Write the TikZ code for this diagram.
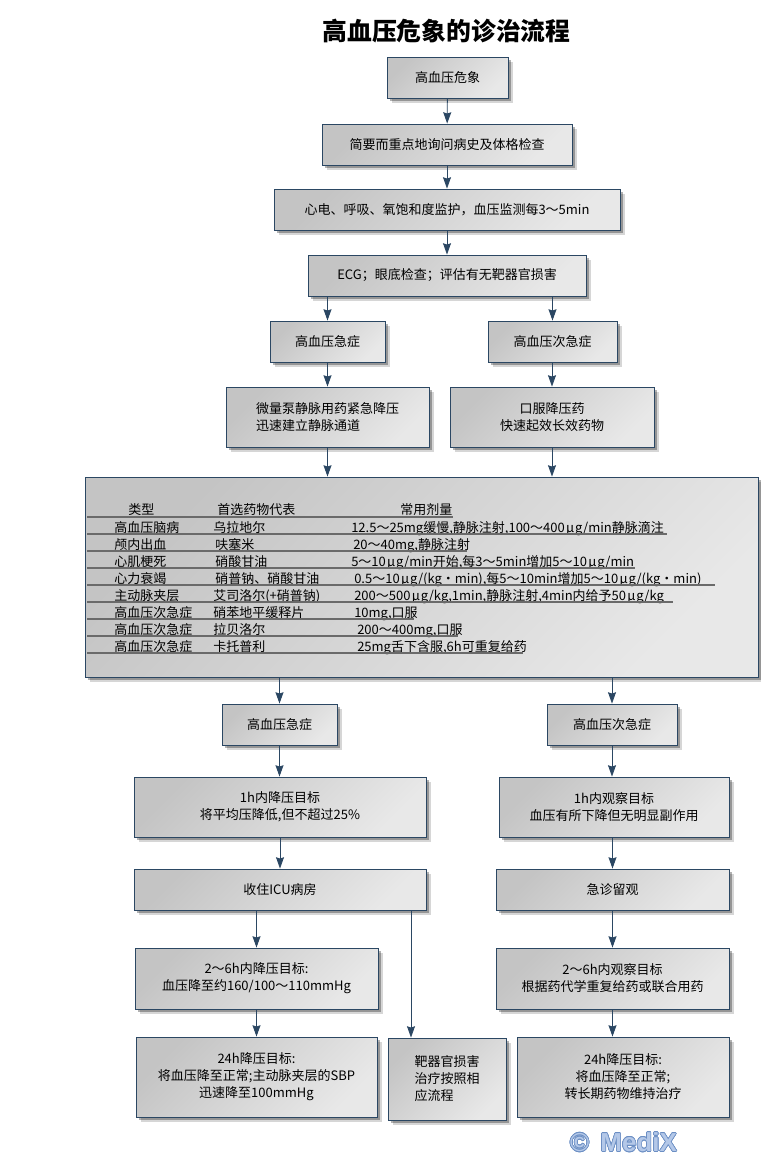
\documentclass[tikz,border=0pt]{standalone}
\usepackage{fontspec}
\usepackage{contour}
\setmainfont{Noto Sans CJK SC}
\newfontfamily\watermarkfont{Liberation Sans}
\usetikzlibrary{arrows.meta,calc,shadows}
\contourlength{0.5pt}
\definecolor{boxedge}{HTML}{2B4763}
\definecolor{boxdark}{HTML}{C4C4C4}
\definecolor{boxlight}{HTML}{E8E8E8}
\definecolor{rowgray}{HTML}{6A6A6A}
\definecolor{markblue}{HTML}{B4C8E8}
\definecolor{markedge}{HTML}{6C8FC4}
\newcommand{\mug}{\kern1pt μ\kern.6pt g}
\tikzset{
  flowbox/.style={draw=boxedge,line width=0.65pt,top color=boxdark,bottom color=boxlight,shading angle=45,
    drop shadow={shadow xshift=3.4pt,shadow yshift=-3.4pt,opacity=.16,fill=black},
    drop shadow={shadow xshift=2pt,shadow yshift=-2pt,opacity=.3,fill=black},
    inner sep=0pt,font=\fontsize{9.75}{12.75}\selectfont,align=center,
    execute at begin node={\vspace{1.5pt}}},
  flowarrow/.style={draw=boxedge,line width=0.65pt,-{Stealth[length=8.5pt,width=6pt,inset=1pt]}},
  rowline/.style={draw=rowgray,line width=1.1pt},
  rowtext/.style={anchor=base west,inner sep=0pt,font=\fontsize{9.75}{12}\selectfont},
}
\begin{document}
\begin{tikzpicture}[x=0.75pt,y=-0.75pt]
  \useasboundingbox (0,0) rectangle (761,1158);
  \node[font=\fontsize{18.6}{22}\selectfont\bfseries] (title) at (446.5,31) {高血压危象的诊治流程};

  % upper boxes
  \node[flowbox,minimum width=90.75pt,minimum height=30.75pt] (crisis) at (447.5,77.5) {高血压危象};
  \node[flowbox,minimum width=187.5pt,minimum height=30.75pt] (history) at (447,144.5) {简要而重点地询问病史及体格检查};
  \node[flowbox,minimum width=259.5pt,minimum height=30.75pt] (monitor) at (447,209.5) {心电、呼吸、氧饱和度监护，血压监测每3～5min};
  \node[flowbox,minimum width=208.5pt,minimum height=30.75pt] (ecg) at (447,275.5) {ECG；眼底检查；评估有无靶器官损害};
  \node[flowbox,minimum width=86.25pt,minimum height=30.75pt] (urgA) at (327.5,341.5) {高血压急症};
  \node[flowbox,minimum width=96.75pt,minimum height=30.75pt] (subA) at (552.5,341.5) {高血压次急症};
  \node[flowbox,align=left,minimum width=152.25pt,minimum height=45pt] (pump) at (327.5,417) {微量泵静脉用药紧急降压\\迅速建立静脉通道};
  \node[flowbox,minimum width=153pt,minimum height=45pt] (oral) at (552,417) {口服降压药\\快速起效长效药物};

  % drug table
  \node[flowbox,minimum width=504.75pt,minimum height=150pt] (drugs) at (421.5,577) {};
  \node[rowtext] (headA) at (128,514.5) {类型};
  \node[rowtext] (headB) at (217,514.5) {首选药物代表};
  \node[rowtext] (headC) at (400,514.5) {常用剂量};
  \node[rowtext] (typeA) at (114,532) {高血压脑病};
  \node[rowtext] (drugA) at (213,532) {乌拉地尔};
  \node[rowtext] (doseA) at (351,532) {12.5～25mg缓慢,静脉注射,100～400\mug/min静脉滴注};
  \node[rowtext] (typeB) at (114,549) {颅内出血};
  \node[rowtext] (drugB) at (215,549) {呋塞米};
  \node[rowtext] (doseB) at (353,549) {20～40mg,静脉注射};
  \node[rowtext] (typeC) at (114,566) {心肌梗死};
  \node[rowtext] (drugC) at (215,566) {硝酸甘油};
  \node[rowtext] (doseC) at (351,566) {5～10\mug/min开始,每3～5min增加5～10\mug/min};
  \node[rowtext] (typeD) at (114,583) {心力衰竭};
  \node[rowtext] (drugD) at (215,583) {硝普钠、硝酸甘油};
  \node[rowtext] (doseD) at (354,583) {0.5～10\mug/(kg・min),每5～10min增加5～10\mug/(kg・min)};
  \node[rowtext] (typeE) at (114,600) {主动脉夹层};
  \node[rowtext] (drugE) at (213,600) {艾司洛尔(+硝普钠)};
  \node[rowtext] (doseE) at (354,600) {200～500\mug/kg,1min,静脉注射,4min内给予50\mug/kg};
  \node[rowtext] (typeF) at (114,617) {高血压次急症};
  \node[rowtext] (drugF) at (213,617) {硝苯地平缓释片};
  \node[rowtext] (doseF) at (354,617) {10mg,口服};
  \node[rowtext] (typeG) at (114,634) {高血压次急症};
  \node[rowtext] (drugG) at (213,634) {拉贝洛尔};
  \node[rowtext] (doseG) at (357,634) {200～400mg,口服};
  \node[rowtext] (typeH) at (114,651) {高血压次急症};
  \node[rowtext] (drugH) at (213,651) {卡托普利};
  \node[rowtext] (doseH) at (357,651) {25mg舌下含服,6h可重复给药};

  % table rules
  \draw[rowline] (87,517) -- (453,517);
  \draw[rowline] (87,534) -- (667,534);
  \draw[rowline] (87,551) -- (467,551);
  \draw[rowline] (87,568) -- (635,568);
  \draw[rowline] (87,585) -- (715,585);
  \draw[rowline] (87,602) -- (673,602);
  \draw[rowline] (87,619) -- (414,619);
  \draw[rowline] (87,636) -- (458,636);
  \draw[rowline] (87,653) -- (523,653);

  % lower boxes
  \node[flowbox,minimum width=86.25pt,minimum height=30.75pt] (urgB) at (279.5,724.5) {高血压急症};
  \node[flowbox,minimum width=97.5pt,minimum height=30.75pt] (subB) at (612,724.5) {高血压次急症};
  \node[flowbox,minimum width=219pt,minimum height=45pt] (goalA) at (280,807) {1h内降压目标\\将平均压降低,但不超过25\%};
  \node[flowbox,minimum width=172.5pt,minimum height=45pt] (watchA) at (614,807) {1h内观察目标\\血压有所下降但无明显副作用};
  \node[flowbox,minimum width=219pt,minimum height=30.75pt] (icu) at (280,889.5) {收住ICU病房};
  \node[flowbox,minimum width=174.75pt,minimum height=30.75pt] (stay) at (612.5,889.5) {急诊留观};
  \node[flowbox,minimum width=182.25pt,minimum height=45.75pt] (goalB) at (256.5,978.5) {2～6h内降压目标:\\血压降至约160/100～110mmHg};
  \node[flowbox,minimum width=174.75pt,minimum height=45.75pt] (watchB) at (612.5,978.5) {2～6h内观察目标\\根据药代学重复给药或联合用药};
  \node[flowbox,minimum width=180.75pt,minimum height=60pt] (goalC) at (256.5,1077) {24h降压目标:\\将血压降至正常;主动脉夹层的SBP\\迅速降至100mmHg};
  \node[flowbox,align=left,minimum width=88.5pt,minimum height=61.5pt] (organ) at (447,1079) {靶器官损害\\治疗按照相\\应流程};
  \node[flowbox,minimum width=159pt,minimum height=60pt] (goalD) at (623,1077) {24h降压目标:\\将血压降至正常;\\转长期药物维持治疗};

  % connectors
  \draw[flowarrow] (crisis) -- (history);
  \draw[flowarrow] (history) -- (monitor);
  \draw[flowarrow] (monitor) -- (ecg);
  \draw[flowarrow] (ecg.south -| urgA.north) -- (urgA);
  \draw[flowarrow] (ecg.south -| subA.north) -- (subA);
  \draw[flowarrow] (urgA) -- (pump);
  \draw[flowarrow] (subA.south -| oral.north) -- (oral);
  \draw[flowarrow] (pump.south) -- (pump.south |- drugs.north);
  \draw[flowarrow] (oral.south) -- (oral.south |- drugs.north);
  \draw[flowarrow] (drugs.south -| urgB.north) -- (urgB);
  \draw[flowarrow] (drugs.south -| subB.north) -- (subB);
  \draw[flowarrow] (urgB.south) -- (urgB.south |- goalA.north);
  \draw[flowarrow] (subB.south) -- (subB.south |- watchA.north);
  \draw[flowarrow] (goalA) -- (icu);
  \draw[flowarrow] (watchA.south -| stay.north) -- (stay);
  \draw[flowarrow] (icu.south -| goalB.north) -- (goalB);
  \draw[flowarrow] (goalB) -- (goalC);
  \coordinate (icuTap) at (411,910);
  \draw[flowarrow] (icuTap) -- (icuTap |- organ.north);
  \draw[flowarrow] (stay) -- (watchB);
  \draw[flowarrow] (watchB.south) -- (watchB.south |- goalD.north);

  % watermark
  \node[inner sep=0pt,font=\watermarkfont\bfseries\fontsize{19.5}{20}\selectfont,text=markblue] (mark) at (623.5,1142.5) {\contour{markedge}{©\kern3pt{} MediX}};
\end{tikzpicture}
\end{document}
